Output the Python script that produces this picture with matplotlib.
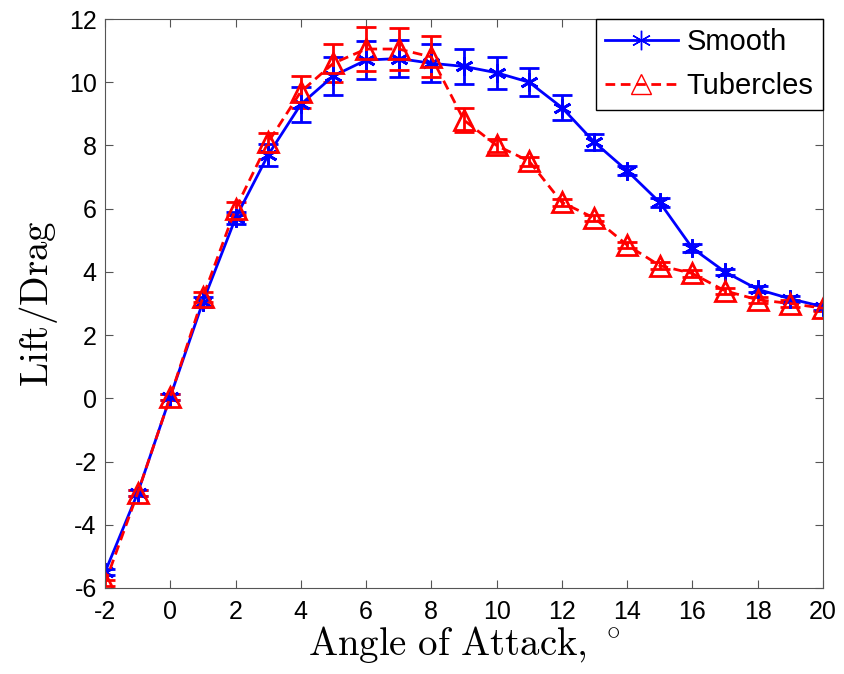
import matplotlib
matplotlib.use('Agg')
import matplotlib.pyplot as plt
from matplotlib.lines import Line2D

angle = [-2, -1, 0, 1, 2, 3, 4, 5, 6, 7, 8, 9, 10, 11, 12, 13, 14, 15, 16, 17, 18, 19, 20]
smooth = [-5.5, -3.0, 0.05, 3.05, 5.7, 7.7, 9.3, 10.2, 10.7, 10.75, 10.6, 10.5, 10.3,
          10.0, 9.2, 8.1, 7.2, 6.2, 4.75, 4.0, 3.45, 3.15, 2.9]
smooth_err = [0.1, 0.1, 0.1, 0.15, 0.2, 0.35, 0.55, 0.6, 0.6, 0.6, 0.6, 0.55, 0.5,
              0.45, 0.4, 0.25, 0.15, 0.15, 0.12, 0.1, 0.1, 0.1, 0.1]
tubercles = [-5.85, -3.0, 0.05, 3.2, 6.0, 8.1, 9.7, 10.6, 11.05, 11.05, 10.8, 8.8, 8.0,
             7.5, 6.2, 5.7, 4.85, 4.2, 3.95, 3.4, 3.12, 3.0, 2.85]
tubercles_err = [0.1, 0.1, 0.1, 0.15, 0.2, 0.3, 0.5, 0.6, 0.7, 0.65, 0.65, 0.37, 0.2,
                 0.15, 0.12, 0.1, 0.1, 0.1, 0.1, 0.1, 0.1, 0.1, 0.1]

plt.rcParams['mathtext.fontset'] = 'cm'
plt.rcParams['font.family'] = 'Liberation Sans'
plt.rcParams['axes.unicode_minus'] = False

blue = '#0000ff'
red = '#ff0000'
ast = (6, 2, 0)

fig = plt.figure(figsize=(8.44, 6.74), dpi=100)
ax = fig.add_axes([0.1244, 0.1276, 0.8506, 0.8442])

ax.errorbar(angle, smooth, yerr=smooth_err, color=blue, lw=2, marker=ast,
            ms=13, mew=2, capsize=7, capthick=2, elinewidth=2)
ax.errorbar(angle, tubercles, yerr=tubercles_err, color=red, lw=2, ls='--',
            dashes=(3.5, 2), marker='^', ms=14, mfc='none', mec=red, mew=2,
            capsize=7, capthick=2, elinewidth=2)

ax.set_xlim(-2, 20)
ax.set_ylim(-6, 12)
ax.set_xticks(range(-2, 21, 2))
ax.set_yticks(range(-6, 13, 2))
ax.tick_params(direction='in', top=True, right=True, labelsize=18, length=6,
               color='#555555')
ax.tick_params(axis='x', pad=9)
ax.tick_params(axis='y', pad=6)
for s in ax.spines.values():
    s.set_color('#555555')

ax.set_xlabel(r'$\mathrm{Angle\ of\ Attack,}\,{}^\circ$', fontsize=28, labelpad=0)
ax.set_ylabel(r'$\mathrm{Lift/Drag}$', fontsize=28, labelpad=6)

handles = [
    Line2D([], [], color=blue, lw=2, marker=ast, ms=14, mew=1),
    Line2D([], [], color=red, lw=2, ls='--', dashes=(3.5, 2), marker='^', ms=14,
           mfc='none', mec=red, mew=1),
]
leg = ax.legend(handles, ['Smooth', 'Tubercles'], loc='upper right', fontsize=21,
                borderaxespad=0, fancybox=False, framealpha=1, edgecolor='black',
                handlelength=2.5, handletextpad=0.3, borderpad=0.32, labelspacing=0.55)
leg.get_frame().set_linewidth(1)

fig.savefig('out.png', dpi=100)
